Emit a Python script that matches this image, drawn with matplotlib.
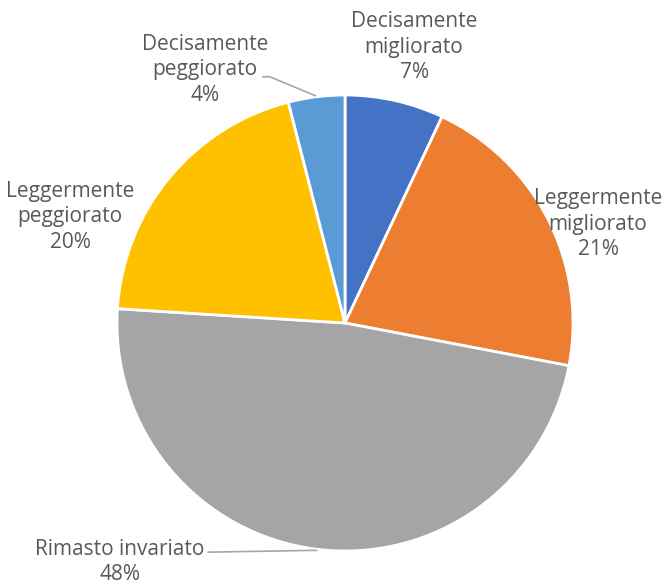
import numpy as np
import matplotlib
matplotlib.use("Agg")
import matplotlib.pyplot as plt

plt.rcParams["font.family"] = ["Open Sans", "DejaVu Sans"]

# dati
categorie = ["Decisamente\nmigliorato", "Leggermente\nmigliorato", "Rimasto invariato",
             "Leggermente\npeggiorato", "Decisamente\npeggiorato"]
valori = [7, 21, 48, 20, 4]
colori = ["#4472C4", "#ED7D31", "#A5A5A5", "#FFC000", "#5B9BD5"]

# posizione etichette (coordinate dati, raggio = 1)
pos_etichette = [(0.303, 1.21), (1.11, 0.434), (-0.987, -1.048), (-1.206, 0.465), (-0.614, 1.11)]
TXT = "#595959"
LINEA = "#A6A6A6"

W, H = 664, 585
fig = plt.figure(figsize=(W / 100, H / 100), dpi=100)
cx, cy, r = 345, 323, 228
ax = fig.add_axes([(cx - r) / W, (H - cy - r) / H, 2 * r / W, 2 * r / H])

wedges, _ = ax.pie(valori, colors=colori, startangle=90, counterclock=False,
                   wedgeprops=dict(edgecolor="white", linewidth=2))
ax.set_xlim(-1, 1)
ax.set_ylim(-1, 1)
ax.set_aspect("equal")
ax.axis("off")

for i, (w, cat, v) in enumerate(zip(wedges, categorie, valori)):
    x, y = pos_etichette[i]
    ax.text(x, y, f"{cat}\n{v}%", ha="center", va="center", fontsize=15,
            color=TXT, linespacing=1.3, clip_on=False)

# linee guida
def anchor(w):
    a = np.deg2rad((w.theta1 + w.theta2) / 2)
    return np.cos(a), np.sin(a)

# Rimasto invariato
ax_, ay_ = anchor(wedges[2])
ax.plot([-0.60, ax_], [-1.005, ay_ - 0.005], color=LINEA, lw=1.2, clip_on=False)
# Decisamente peggiorato
bx, by = anchor(wedges[4])
ax.plot([-0.36, -0.33, bx - 0.005], [1.08, 1.08, by + 0.005], color=LINEA, lw=1.2, clip_on=False)

fig.savefig("out.png", dpi=100, facecolor="white")
